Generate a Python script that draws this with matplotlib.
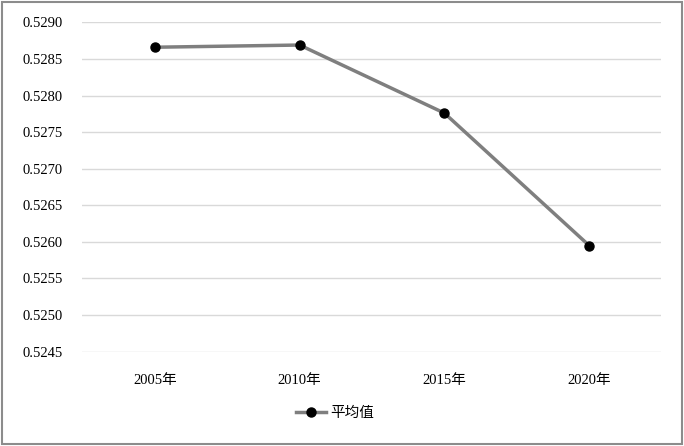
import matplotlib.pyplot as plt
from matplotlib.patches import Rectangle

plt.rcParams['font.family'] = ['Liberation Serif', 'Noto Sans CJK SC']

years = ['2005年', '2010年', '2015年', '2020年']
avg = [0.52866, 0.52869, 0.52776, 0.52595]

fig = plt.figure(figsize=(6.84, 4.46), dpi=100)
ax = fig.add_axes([0.1206, 0.2108, 0.8465, 0.7399])

x = list(range(len(years)))
ax.plot(x, avg, color='#7f7f7f', linewidth=2.5, marker='o', markersize=6.5,
        markerfacecolor='black', markeredgecolor='black', label='平均值', zorder=3)

ax.set_xlim(-0.5, len(years) - 0.5)
ax.set_ylim(0.524495, 0.529005)
ax.set_yticks([0.5245 + i * 0.0005 for i in range(10)])
ax.set_yticklabels([f'{0.5245 + i * 0.0005:.4f}' for i in range(10)])
ax.set_xticks(x)
ax.set_xticklabels(years)
ax.tick_params(axis='both', length=0, labelsize=10.5)
ax.tick_params(axis='y', pad=14)
ax.tick_params(axis='x', pad=16)
ax.grid(axis='y', color='#d9d9d9', linewidth=1)
for s in ax.spines.values():
    s.set_visible(False)

fig.legend(loc='center', bbox_to_anchor=(0.49, 0.074), frameon=False,
           fontsize=10.5, handlelength=2.0, handletextpad=0.3)

fig.patches.append(Rectangle((0.003, 0.004), 0.994, 0.992, transform=fig.transFigure,
                             fill=False, edgecolor='#8c8c8c', linewidth=1.5))

fig.savefig('out.png', dpi=100)
